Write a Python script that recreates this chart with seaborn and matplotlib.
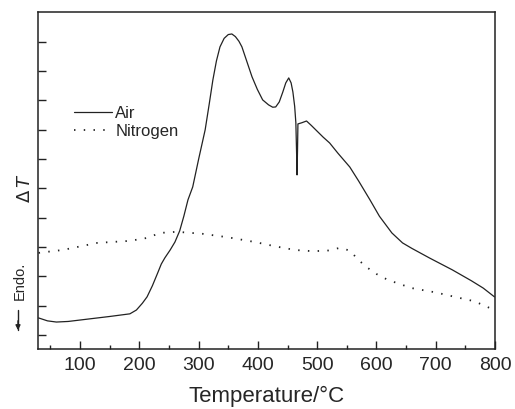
import numpy as np
import pandas as pd
import seaborn as sns
import matplotlib.pyplot as plt
from matplotlib.ticker import MultipleLocator

# DTA curves (y in arbitrary units, one unit per y tick)
air_temp = [30, 45, 60, 80, 117, 150, 184, 195, 205, 213, 222, 231, 237, 243, 252,
            260, 268, 275, 282, 290, 300, 311, 318, 324, 330, 336, 343, 350, 356,
            362, 368, 373, 381, 390, 399, 408, 418, 425, 430, 436, 442, 447, 452,
            456, 459, 462, 464, 465.5, 466, 466.8, 467.5, 474, 482, 490, 500, 510,
            521, 535, 555, 570, 589, 605, 626, 644, 660, 690, 728, 760, 780, 799]
air_dt = [0.58, 0.48, 0.44, 0.46, 0.55, 0.63, 0.72, 0.85, 1.08, 1.30, 1.68, 2.12,
          2.42, 2.63, 2.90, 3.17, 3.55, 4.05, 4.61, 5.05, 6.00, 7.00, 7.90, 8.70,
          9.35, 9.83, 10.12, 10.25, 10.27, 10.18, 10.02, 9.83, 9.35, 8.81, 8.38,
          8.02, 7.85, 7.77, 7.78, 7.95, 8.29, 8.60, 8.77, 8.60, 8.29, 7.80, 7.24,
          6.00, 5.46, 6.30, 7.20, 7.24, 7.30, 7.15, 6.95, 6.75, 6.55, 6.20, 5.73,
          5.25, 4.61, 4.05, 3.48, 3.14, 2.95, 2.62, 2.22, 1.85, 1.60, 1.30]

n2_temp = [30, 71, 129, 184, 213, 235, 263, 307, 350, 395, 430, 462, 490, 516,
           538, 555, 570, 585, 600, 619, 659, 700, 732, 765, 791]
n2_dt = [2.80, 2.90, 3.14, 3.21, 3.31, 3.48, 3.52, 3.45, 3.33, 3.17, 3.02, 2.90,
         2.86, 2.87, 2.97, 2.88, 2.55, 2.29, 2.08, 1.88, 1.60, 1.45, 1.30, 1.15, 0.92]

xticks = [100, 200, 300, 400, 500, 600, 700, 800]

air = pd.DataFrame({"T": air_temp, "dT": air_dt})
n2 = pd.DataFrame({"T": n2_temp, "dT": n2_dt})

sns.set_style("ticks")
plt.rcParams["font.family"] = ["Liberation Sans", "DejaVu Sans"]

fig = plt.figure(figsize=(5.15, 4.09), dpi=100)
ax = fig.add_axes([0.0738, 0.1467, 0.8874, 0.824])

ink = "#222222"
sns.lineplot(data=air, x="T", y="dT", ax=ax, color=ink, lw=0.9, label="Air",
             sort=False)
sns.lineplot(data=n2, x="T", y="dT", ax=ax, color=ink, lw=1.3, label="Nitrogen",
             sort=False, dashes=False)
ax.lines[1].set_linestyle((0, (0.8, 4.6)))

ax.set_xlim(29, 800)
ax.set_ylim(-0.48, 11.02)
ax.set_xticks(xticks)
ax.set_xticklabels([str(t) for t in xticks])
ax.xaxis.set_minor_locator(MultipleLocator(50))
ax.set_yticks(np.arange(0, 11))
ax.set_yticklabels([])
ax.tick_params(axis="both", which="major", direction="in", length=6, width=1,
               color=ink, labelsize=14, pad=6)
ax.tick_params(axis="x", which="minor", direction="in", length=3, width=1, color=ink)
for s in ax.spines.values():
    s.set_visible(True)
    s.set_linewidth(1.1)
    s.set_color(ink)

ax.set_xlabel("Temperature/°C", fontsize=16, labelpad=8)
ax.set_ylabel("")

fig.text(25 / 515, 1 - 188 / 409, r"$\Delta\,T$", rotation=90, fontsize=13,
         ha="center", va="center", fontstyle="italic")
fig.text(20 / 515, 1 - 281 / 409, "Endo.", rotation=90, fontsize=10.5,
         ha="center", va="center")
fig.add_artist(plt.Line2D([18 / 515, 18 / 515], [1 - 310 / 409, 1 - 330 / 409],
                          color=ink, lw=1))
ax.annotate("", xy=(18 / 515, 1 - 333 / 409), xytext=(18 / 515, 1 - 318 / 409),
            xycoords="figure fraction",
            arrowprops=dict(arrowstyle="-|>", color=ink, lw=1, mutation_scale=7))

leg = ax.legend(loc="upper left", bbox_to_anchor=(0.06, 0.745), frameon=False,
                fontsize=12, handlelength=2.3, handletextpad=0.2,
                labelspacing=0.18, borderpad=0)

fig.savefig("out.png", dpi=100)
